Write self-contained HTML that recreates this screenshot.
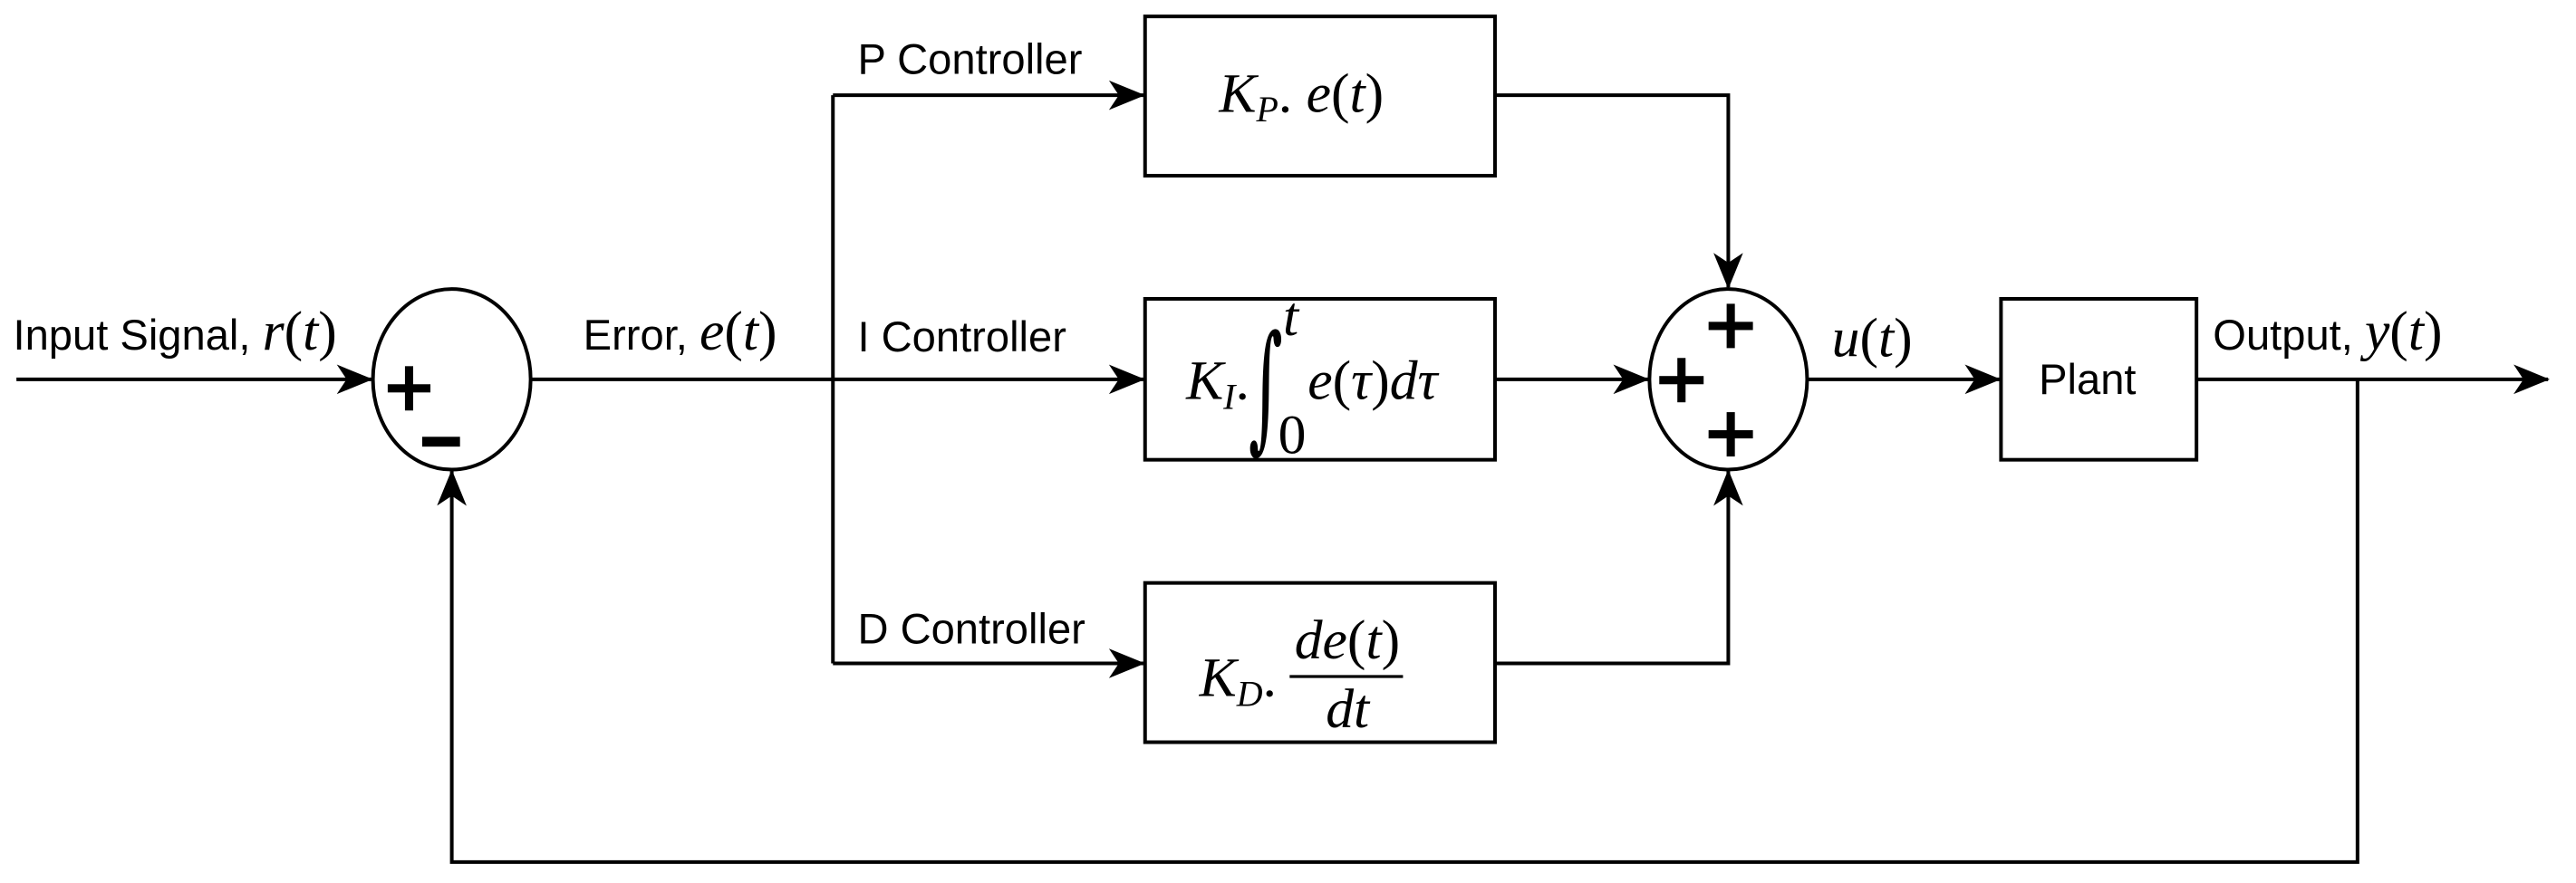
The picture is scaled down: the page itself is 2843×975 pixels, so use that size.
<!DOCTYPE html>
<html><head><meta charset="utf-8"><style>
html,body{margin:0;padding:0;background:#fff;}
svg{display:block;}
.s{font-family:"Liberation Sans",sans-serif;font-size:26px;fill:#000;}
.m{font-family:"Liberation Serif",serif;font-style:italic;font-size:34px;fill:#000;}
.n{font-style:normal;}
</style></head><body>
<svg width="2843" height="975" viewBox="0 0 1568 537.75" preserveAspectRatio="none" xmlns="http://www.w3.org/2000/svg">
<defs>
<marker id="a" viewBox="0 0 22 18" refX="21" refY="9" markerWidth="22" markerHeight="18" markerUnits="userSpaceOnUse" orient="auto">
<path d="M0,0 L22,9 L0,18 L6,9 Z" fill="#000"/>
</marker>
</defs>
<g stroke="#000" stroke-width="2.2" fill="none">
<line x1="10" y1="231" x2="226" y2="231" marker-end="url(#a)"/>
<ellipse cx="275" cy="231" rx="48" ry="55"/>
<line x1="323" y1="231" x2="507" y2="231"/>
<line x1="507" y1="58" x2="507" y2="404"/>
<line x1="507" y1="58" x2="696" y2="58" marker-end="url(#a)"/>
<line x1="507" y1="231" x2="696" y2="231" marker-end="url(#a)"/>
<line x1="507" y1="404" x2="696" y2="404" marker-end="url(#a)"/>
<rect x="697" y="10" width="213" height="97"/>
<rect x="697" y="182" width="213" height="98"/>
<rect x="697" y="355" width="213" height="97"/>
<polyline points="910,58 1052,58 1052,175" marker-end="url(#a)"/>
<line x1="910" y1="231" x2="1003" y2="231" marker-end="url(#a)"/>
<polyline points="910,404 1052,404 1052,287" marker-end="url(#a)"/>
<ellipse cx="1052" cy="231" rx="48" ry="55"/>
<line x1="1100" y1="231" x2="1217" y2="231" marker-end="url(#a)"/>
<rect x="1218" y="182" width="119" height="98"/>
<line x1="1337" y1="231" x2="1551" y2="231" marker-end="url(#a)"/>
<polyline points="1435,231 1435,525 275,525 275,287" marker-end="url(#a)"/>
<line x1="785" y1="412" x2="854" y2="412" stroke-width="1.8"/>
</g>
<g fill="#000">
<rect x="236" y="234" width="26" height="5"/><rect x="246.5" y="223" width="5" height="27"/>
<rect x="257" y="266" width="23" height="6"/>
<rect x="1040" y="196" width="27" height="5"/><rect x="1051" y="185" width="5" height="27"/>
<rect x="1010" y="229" width="27" height="5"/><rect x="1021" y="218" width="5" height="27"/>
<rect x="1040" y="262" width="27" height="5"/><rect x="1051" y="251" width="5" height="27"/>
</g>
<text class="s" x="8" y="213">Input Signal, <tspan class="m">r</tspan><tspan class="m n">(</tspan><tspan class="m">t</tspan><tspan class="m n">)</tspan></text>
<text class="s" x="355" y="213">Error, <tspan class="m">e</tspan><tspan class="m n">(</tspan><tspan class="m">t</tspan><tspan class="m n">)</tspan></text>
<text class="s" x="522" y="45">P Controller</text>
<text class="s" x="522" y="214">I Controller</text>
<text class="s" x="522" y="392">D Controller</text>
<text class="m" x="742" y="68">K<tspan font-size="22" dy="6">P</tspan><tspan class="n" dy="-6">.</tspan> e<tspan class="n">(</tspan>t<tspan class="n">)</tspan></text>
<text class="m" x="722" y="243">K<tspan font-size="22" dy="6">I</tspan><tspan class="n" dy="-6">.</tspan></text>
<text x="0" y="0" font-family="DejaVu Serif, serif" font-size="40" transform="translate(760,264) scale(1,2.1)">∫</text>
<text class="m" x="781" y="204" font-size="24">t</text>
<text class="m n" x="778" y="276" font-size="24">0</text>
<text class="m" x="796" y="243">e<tspan class="n">(</tspan>τ<tspan class="n">)</tspan>dτ</text>
<text class="m" x="730" y="424">K<tspan font-size="22" dy="6">D</tspan><tspan class="n" dy="-6">.</tspan></text>
<text class="m" x="788" y="401">de<tspan class="n">(</tspan>t<tspan class="n">)</tspan></text>
<text class="m" x="807" y="443">dt</text>
<text class="m" x="1115" y="217">u<tspan class="n">(</tspan>t<tspan class="n">)</tspan></text>
<text class="s" x="1241" y="240">Plant</text>
<text class="s" x="1347" y="213">Output, <tspan class="m">y</tspan><tspan class="m n">(</tspan><tspan class="m">t</tspan><tspan class="m n">)</tspan></text>
</svg>
</body></html>
